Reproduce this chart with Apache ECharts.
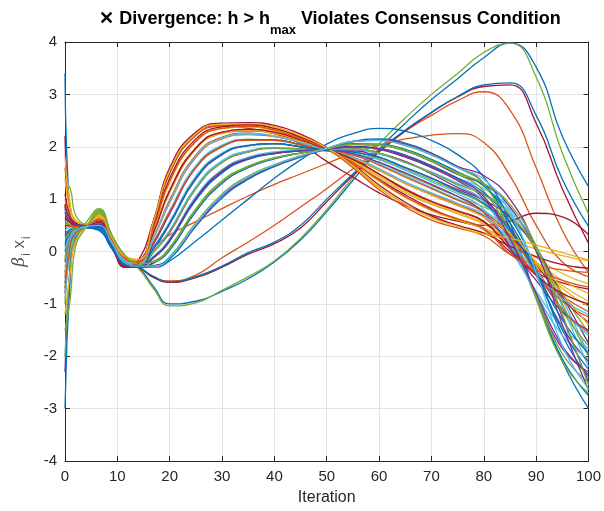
<!DOCTYPE html>
<html><head><meta charset="utf-8">
<script src="https://cdn.jsdelivr.net/npm/echarts@6/dist/echarts.min.js"></script>
<style>html,body{margin:0;padding:0;background:#fff}#c{width:604px;height:511px}</style>
</head><body><div id="c"></div>
<script>
const iterations = [0, 1, 2, 4, 6.5, 9, 11.5, 14, 17, 20, 25, 30, 35, 40, 45, 50, 55, 60, 65, 70, 75, 80, 85, 90, 95, 100];
const xTicks = [0, 10, 20, 30, 40, 50, 60, 70, 80, 90, 100];
const yTicks = [-4, -3, -2, -1, 0, 1, 2, 3, 4];

const agent00 = [3.4, 0.6, 0.45, 0.5, 0.55, 0.15, -0.2, -0.3, -0.68, -1.0, -0.95, -0.76, -0.52, -0.2, 0.22, 0.76, 1.36, 1.95, 2.45, 2.9, 3.3, 3.7, 3.98, 3.52, 2.2, 1.24];
const agent01 = [0.9, 0.5, 0.5, 0.5, 0.5, 0.12, -0.2, -0.3, -0.5, -0.56, -0.45, -0.12, 0.18, 0.5, 0.85, 1.2, 1.58, 1.95, 2.3, 2.6, 2.88, 3.05, 2.7, 1.6, 0.4, -0.4];
const agent02 = [0.5, 0.55, 0.5, 0.48, 0.62, 0.22, -0.12, -0.22, 0.5, 1.38, 2.14, 2.35, 2.38, 2.3, 2.14, 1.95, 1.68, 1.34, 1.04, 0.8, 0.63, 0.45, 0.2, -0.12, -0.42, -0.62];
const agent03 = [-2.3, -0.2, 0.25, 0.45, 0.5, 0.15, -0.22, -0.28, -0.1, 0.2, 1.0, 1.52, 1.77, 1.87, 1.92, 1.95, 2.0, 1.95, 1.8, 1.6, 1.35, 1.0, 0.2, -0.85, -1.85, -2.3];
const agent04 = [-2.0, -0.3, 0.3, 0.55, 0.82, 0.3, -0.15, -0.32, -0.72, -1.04, -0.98, -0.74, -0.48, -0.18, 0.25, 0.8, 1.42, 2.05, 2.55, 3.0, 3.4, 3.8, 3.98, 3.33, 1.88, 0.72];
const agent05 = [0.2, 0.35, 0.42, 0.5, 0.58, 0.2, -0.18, -0.27, 0.0, 0.4, 1.24, 1.73, 1.92, 1.97, 1.95, 1.93, 1.94, 1.86, 1.7, 1.52, 1.3, 1.1, 0.75, 0.1, -0.9, -1.95];
const agent06 = [2.2, 0.7, 0.55, 0.5, 0.45, 0.1, -0.25, -0.3, -0.5, -0.59, -0.5, -0.3, -0.05, 0.15, 0.45, 0.95, 1.45, 1.9, 2.3, 2.65, 2.95, 3.15, 3.18, 2.45, 1.2, 0.16];
const agent07 = [-3.0, -0.5, 0.2, 0.45, 0.4, 0.05, -0.25, -0.3, -0.48, -0.58, -0.48, -0.28, -0.02, 0.18, 0.5, 1.0, 1.48, 1.92, 2.32, 2.66, 2.96, 3.18, 3.22, 2.6, 1.38, 0.48];
const agent08 = [0.3, 0.4, 0.45, 0.5, 0.55, 0.2, -0.15, -0.24, 0.08, 0.32, 0.57, 0.82, 1.06, 1.28, 1.48, 1.68, 1.88, 2.03, 2.15, 2.22, 2.25, 2.08, 1.45, 0.5, -0.2, -0.48];
const agent09 = [1.0, 0.65, 0.55, 0.5, 0.7, 0.28, -0.08, -0.15, 0.62, 1.58, 2.27, 2.42, 2.43, 2.37, 2.2, 1.97, 1.63, 1.22, 0.9, 0.65, 0.5, 0.36, 0.2, 0.05, -0.08, -0.18];
const agent10 = [-0.8, 0.15, 0.35, 0.47, 0.45, 0.1, -0.28, -0.3, -0.2, 0.05, 0.8, 1.33, 1.62, 1.78, 1.88, 1.95, 2.04, 2.03, 1.92, 1.72, 1.47, 1.28, 0.85, 0.0, -1.25, -2.5];
const agent11 = [1.3, 1.2, 0.7, 0.52, 0.8, 0.3, -0.1, -0.25, 0.08, 0.55, 1.42, 1.86, 2.02, 2.05, 2.0, 1.93, 1.9, 1.77, 1.57, 1.36, 1.14, 0.9, 0.45, -0.3, -1.15, -1.8];
const agent12 = [0.4, 0.45, 0.45, 0.5, 0.55, 0.18, -0.2, -0.26, -0.08, 0.25, 1.05, 1.56, 1.8, 1.9, 1.93, 1.95, 1.99, 1.96, 1.83, 1.63, 1.4, 1.2, 0.8, 0.1, -1.05, -2.2];
const agent13 = [0.6, 0.5, 0.55, 0.5, 0.6, 0.2, -0.25, -0.2, 0.55, 1.5, 2.22, 2.4, 2.35, 2.25, 2.05, 1.72, 1.42, 1.12, 0.88, 0.7, 0.58, 0.5, 0.58, 0.73, 0.66, 0.32];
const agent14 = [-0.4, 0.1, 0.35, 0.48, 0.45, 0.1, -0.25, -0.3, -0.3, -0.18, 0.2, 0.6, 1.0, 1.4, 1.75, 2.05, 2.25, 2.35, 2.3, 2.12, 1.85, 1.42, 0.55, -0.9, -2.1, -3.0];
const agent15 = [0.7, 0.6, 0.52, 0.5, 0.65, 0.25, -0.1, -0.18, 0.58, 1.52, 2.22, 2.4, 2.42, 2.35, 2.18, 1.96, 1.6, 1.18, 0.85, 0.6, 0.45, 0.3, -0.05, -0.25, -0.35, -0.4];
const agent16 = [-0.3, 0.25, 0.4, 0.48, 0.6, 0.22, -0.15, -0.24, 0.38, 1.15, 1.98, 2.28, 2.33, 2.28, 2.12, 1.95, 1.74, 1.45, 1.15, 0.92, 0.74, 0.55, 0.25, -0.2, -0.7, -1.05];
const agent17 = [0.1, 0.3, 0.4, 0.5, 0.52, 0.15, -0.22, -0.28, 0.0, 0.36, 1.2, 1.7, 1.9, 1.97, 1.96, 1.94, 1.96, 1.88, 1.72, 1.48, 1.22, 0.98, 0.45, -0.45, -1.45, -2.1];
const agent18 = [-1.5, -0.9, 0.1, 0.45, 0.78, 0.3, -0.12, -0.25, 0.18, 0.75, 1.62, 2.02, 2.14, 2.13, 2.04, 1.93, 1.85, 1.7, 1.48, 1.26, 1.05, 0.85, 0.6, 0.05, -0.8, -1.55];
const agent19 = [0.6, 0.5, 0.48, 0.5, 0.57, 0.2, -0.17, -0.26, 0.1, 0.57, 1.44, 1.88, 2.03, 2.06, 2.0, 1.93, 1.88, 1.75, 1.55, 1.33, 1.1, 0.8, 0.05, -0.75, -1.45, -1.85];
const agent20 = [0.9, 0.62, 0.55, 0.5, 0.6, 0.15, -0.25, -0.2, 0.5, 1.4, 2.15, 2.38, 2.42, 2.35, 2.18, 1.97, 1.7, 1.38, 1.08, 0.82, 0.6, 0.42, 0.0, -0.4, -0.6, -0.72];
const agent21 = [-0.6, 0.1, 0.3, 0.45, 0.4, 0.05, -0.28, -0.3, -0.28, -0.15, 0.48, 1.02, 1.38, 1.62, 1.8, 1.96, 2.1, 2.15, 2.07, 1.88, 1.62, 1.3, 0.45, -0.85, -2.05, -2.75];
const agent22 = [1.6, 0.85, 0.6, 0.52, 0.58, 0.18, -0.2, -0.22, 0.4, 1.18, 1.98, 2.26, 2.3, 2.25, 2.1, 1.94, 1.76, 1.48, 1.2, 0.96, 0.78, 0.58, 0.1, -0.45, -0.85, -1.15];
const agent23 = [-0.1, 0.3, 0.42, 0.48, 0.68, 0.25, -0.1, -0.18, 0.46, 1.32, 2.1, 2.35, 2.38, 2.32, 2.15, 1.95, 1.7, 1.36, 1.03, 0.78, 0.6, 0.43, 0.15, -0.2, -0.55, -0.8];
const agent24 = [0.3, 0.4, 0.45, 0.5, 0.5, 0.12, -0.25, -0.28, 0.06, 0.52, 1.38, 1.85, 2.02, 2.06, 2.0, 1.92, 1.92, 1.8, 1.6, 1.4, 1.18, 0.98, 0.65, 0.05, -0.85, -1.75];
const agent25 = [-1.0, 0.05, 0.3, 0.47, 0.75, 0.28, -0.1, -0.24, -0.18, 0.08, 0.82, 1.35, 1.63, 1.79, 1.88, 1.96, 2.05, 2.03, 1.92, 1.72, 1.48, 1.15, 0.3, -0.85, -1.95, -2.5];
const agent26 = [0.8, 0.55, 0.5, 0.5, 0.6, 0.2, -0.16, -0.25, 0.2, 0.78, 1.64, 2.03, 2.14, 2.12, 2.03, 1.93, 1.86, 1.67, 1.45, 1.22, 1.0, 0.78, 0.35, -0.35, -1.1, -1.6];
const agent27 = [0.5, 0.5, 0.5, 0.5, 0.55, 0.12, -0.27, -0.22, 0.3, 0.98, 1.84, 2.18, 2.26, 2.2, 2.08, 1.94, 1.8, 1.57, 1.3, 1.08, 0.88, 0.68, 0.3, -0.25, -0.9, -1.35];
const agent28 = [0.0, 0.3, 0.4, 0.48, 0.42, 0.05, -0.27, -0.3, -0.22, 0.02, 0.76, 1.3, 1.6, 1.77, 1.88, 1.96, 2.06, 2.05, 1.95, 1.76, 1.52, 1.25, 0.65, -0.35, -1.6, -2.4];
const agent29 = [-0.5, 0.2, 0.38, 0.47, 0.62, 0.2, -0.15, -0.22, 0.28, 0.93, 1.8, 2.15, 2.23, 2.2, 2.08, 1.94, 1.78, 1.55, 1.3, 1.1, 0.9, 0.66, 0.15, -0.45, -0.95, -1.25];
const agent30 = [1.8, 0.9, 0.6, 0.52, 0.66, 0.24, -0.12, -0.2, 0.4, 1.12, 1.95, 2.25, 2.31, 2.26, 2.12, 1.95, 1.72, 1.42, 1.12, 0.9, 0.72, 0.52, 0.2, -0.25, -0.65, -0.95];
const agent31 = [-0.2, 0.25, 0.4, 0.48, 0.48, 0.1, -0.25, -0.28, 0.16, 0.72, 1.6, 2.0, 2.13, 2.13, 2.04, 1.93, 1.87, 1.7, 1.5, 1.28, 1.05, 0.75, 0.1, -0.55, -1.15, -1.5];
const agent32 = [0.55, 0.5, 0.48, 0.5, 0.72, 0.28, -0.08, -0.25, -0.28, -0.1, 0.55, 1.1, 1.44, 1.66, 1.83, 1.97, 2.1, 2.12, 2.02, 1.84, 1.6, 1.28, 0.35, -0.9, -2.1, -2.7];
const agent33 = [-0.9, 0.0, 0.32, 0.47, 0.55, 0.18, -0.18, -0.26, 0.02, 0.4, 1.23, 1.72, 1.92, 1.98, 1.96, 1.94, 1.95, 1.87, 1.7, 1.5, 1.26, 0.95, 0.15, -0.8, -1.6, -2.05];
const agent34 = [1.1, 0.68, 0.55, 0.5, 0.58, 0.12, -0.3, -0.17, 0.62, 1.6, 2.28, 2.45, 2.46, 2.41, 2.24, 1.99, 1.66, 1.27, 0.94, 0.68, 0.5, 0.35, 0.1, -0.1, -0.25, -0.32];
const agent35 = [0.35, 0.42, 0.45, 0.5, 0.45, 0.08, -0.26, -0.3, -0.12, 0.2, 0.98, 1.5, 1.76, 1.87, 1.92, 1.95, 2.0, 1.97, 1.84, 1.64, 1.4, 1.12, 0.55, -0.4, -1.5, -2.25];
const agent36 = [0.45, 0.48, 0.48, 0.5, 0.6, 0.2, -0.15, -0.23, 0.2, 0.76, 1.6, 2.0, 2.12, 2.12, 2.04, 1.93, 1.84, 1.65, 1.42, 1.2, 0.98, 0.75, 0.3, -0.4, -1.1, -1.55];
const agent37 = [-1.2, -0.4, 0.2, 0.45, 0.64, 0.24, -0.12, -0.21, 0.3, 0.96, 1.83, 2.17, 2.25, 2.21, 2.09, 1.94, 1.79, 1.56, 1.3, 1.08, 0.88, 0.66, 0.35, -0.2, -0.8, -1.4];
const agent38 = [0.75, 0.55, 0.5, 0.5, 0.5, 0.12, -0.25, -0.3, -0.27, -0.12, 0.5, 1.06, 1.4, 1.64, 1.81, 1.96, 2.1, 2.13, 2.05, 1.87, 1.62, 1.45, 1.0, 0.05, -1.4, -2.65];
const agent39 = [0.25, 0.38, 0.45, 0.5, 0.74, 0.3, -0.08, -0.24, 0.0, 0.38, 1.2, 1.7, 1.9, 1.98, 1.96, 1.94, 1.96, 1.88, 1.7, 1.5, 1.28, 1.08, 0.7, 0.05, -1.0, -2.0];
const agent40 = [-0.4, 0.2, 0.38, 0.48, 0.56, 0.18, -0.18, -0.24, 0.28, 0.95, 1.82, 2.16, 2.24, 2.2, 2.08, 1.94, 1.8, 1.58, 1.33, 1.12, 0.92, 0.7, 0.2, -0.4, -0.9, -1.2];
const agent41 = [0.65, 0.55, 0.52, 0.5, 0.56, 0.1, -0.3, -0.22, 0.38, 1.16, 1.97, 2.28, 2.33, 2.28, 2.13, 1.95, 1.76, 1.48, 1.18, 0.95, 0.77, 0.57, 0.05, -0.45, -0.8, -1.0];
const agent42 = [0.15, 0.35, 0.42, 0.5, 0.48, 0.1, -0.25, -0.28, 0.08, 0.54, 1.4, 1.86, 2.02, 2.06, 2.0, 1.93, 1.9, 1.8, 1.6, 1.4, 1.16, 0.92, 0.4, -0.4, -1.3, -1.95];
const agent43 = [-0.7, 0.1, 0.35, 0.47, 0.62, 0.22, -0.12, -0.2, 0.48, 1.35, 2.1, 2.35, 2.39, 2.32, 2.15, 1.96, 1.7, 1.36, 1.05, 0.8, 0.62, 0.44, -0.05, -0.35, -0.55, -0.68];
const agent44 = [1.4, 0.75, 0.58, 0.52, 0.68, 0.26, -0.1, -0.16, 0.6, 1.55, 2.25, 2.43, 2.44, 2.38, 2.21, 1.98, 1.64, 1.24, 0.9, 0.64, 0.48, 0.33, 0.25, 0.12, -0.02, -0.16];
const agent45 = [0.85, 0.6, 0.52, 0.5, 0.52, 0.14, -0.22, -0.28, -0.1, 0.22, 1.02, 1.54, 1.78, 1.88, 1.92, 1.95, 2.0, 1.96, 1.82, 1.62, 1.38, 1.05, 0.25, -0.8, -1.8, -2.35];
const agent46 = [-0.15, 0.3, 0.42, 0.48, 0.76, 0.3, -0.08, -0.24, -0.2, 0.06, 0.8, 1.33, 1.62, 1.78, 1.88, 1.96, 2.05, 2.04, 1.93, 1.74, 1.5, 1.3, 0.9, 0.1, -1.2, -2.55];
const agent47 = [0.05, 0.3, 0.4, 0.48, 0.5, 0.15, -0.22, -0.28, -0.28, -0.12, 0.52, 1.08, 1.42, 1.65, 1.82, 1.97, 2.1, 2.12, 2.03, 1.85, 1.6, 1.38, 0.75, -0.4, -1.8, -2.62];

const agents = [agent00, agent01, agent02, agent03, agent04, agent05, agent06, agent07, agent08, agent09,
  agent10, agent11, agent12, agent13, agent14, agent15, agent16, agent17, agent18, agent19,
  agent20, agent21, agent22, agent23, agent24, agent25, agent26, agent27, agent28, agent29,
  agent30, agent31, agent32, agent33, agent34, agent35, agent36, agent37, agent38, agent39,
  agent40, agent41, agent42, agent43, agent44, agent45, agent46, agent47];

const palette = ['#0072BD', '#D95319', '#EDB120', '#7E2F8E', '#77AC30', '#4DBEEE', '#A2142F'];
const FONT = '"Liberation Sans", Arial, Helvetica, sans-serif';
const TXT = '#262626';

const chart = echarts.init(document.getElementById('c'), null, {renderer: 'canvas'});

const series = agents.map((vals, k) => ({
  type: 'line',
  data: iterations.map((x, i) => [x, vals[i]]),
  showSymbol: false,
  smooth: 0.5,
  lineStyle: {width: 1.3, color: palette[k % palette.length]},
  itemStyle: {color: palette[k % palette.length]},
  silent: true,
  z: 2
}));

const axisLine = {show: true, onZero: false, lineStyle: {color: TXT, width: 1}};
const axisTick = {show: true, inside: true, length: 5, lineStyle: {color: TXT}};

chart.setOption({
  animation: false,
  backgroundColor: '#ffffff',
  color: palette,
  title: {
    left: 325, top: 5, textAlign: 'center',
    text: '{t|✕ Divergence: h > h}{s|max}{t| Violates Consensus Condition}',
    textStyle: {
      rich: {
        t: {fontFamily: FONT, fontWeight: 'bold', fontSize: 18, color: '#000', lineHeight: 22, verticalAlign: 'top'},
        s: {fontFamily: FONT, fontWeight: 'bold', fontSize: 13, color: '#000', lineHeight: 22, padding: [14, 0, 0, 0], verticalAlign: 'top'}
      }
    }
  },
  grid: {left: 65, right: 12, top: 42, bottom: 50, containLabel: false, show: false},
  xAxis: [{
    type: 'value', min: 0, max: 100, interval: 10, position: 'bottom',
    axisLine, axisTick,
    axisLabel: {color: TXT, fontFamily: FONT, fontSize: 15, margin: 8,
      formatter: v => xTicks.includes(v) ? String(v) : ''},
    splitLine: {show: true, lineStyle: {color: '#e3e3e3', width: 1}},
    name: 'Iteration', nameLocation: 'middle', nameGap: 29,
    nameTextStyle: {color: TXT, fontFamily: FONT, fontSize: 16}
  }, {
    type: 'value', min: 0, max: 100, interval: 10, position: 'top',
    axisLine, axisTick, axisLabel: {show: false}, splitLine: {show: false}
  }],
  yAxis: [{
    type: 'value', min: -4, max: 4, interval: 1, position: 'left',
    axisLine, axisTick,
    axisLabel: {color: TXT, fontFamily: FONT, fontSize: 15, margin: 8,
      formatter: v => yTicks.includes(v) ? String(v) : ''},
    splitLine: {show: true, lineStyle: {color: '#e3e3e3', width: 1}},
    name: '{b|β}{s|i}{n| x}{s|i}', nameLocation: 'middle', nameGap: 20, nameRotate: 90,
    nameTextStyle: {
      rich: {
        b: {fontFamily: '"DejaVu Serif", serif', fontStyle: 'italic', fontSize: 17, color: '#555', lineHeight: 20, verticalAlign: 'top'},
        n: {fontFamily: FONT, fontSize: 17, color: '#555', lineHeight: 20, verticalAlign: 'top'},
        s: {fontFamily: FONT, fontSize: 12, color: '#555', lineHeight: 20, padding: [10, 0, 0, 1], verticalAlign: 'top'}
      }
    }
  }, {
    type: 'value', min: -4, max: 4, interval: 1, position: 'right',
    axisLine, axisTick, axisLabel: {show: false}, splitLine: {show: false}
  }],
  series
});
</script>
</body></html>
